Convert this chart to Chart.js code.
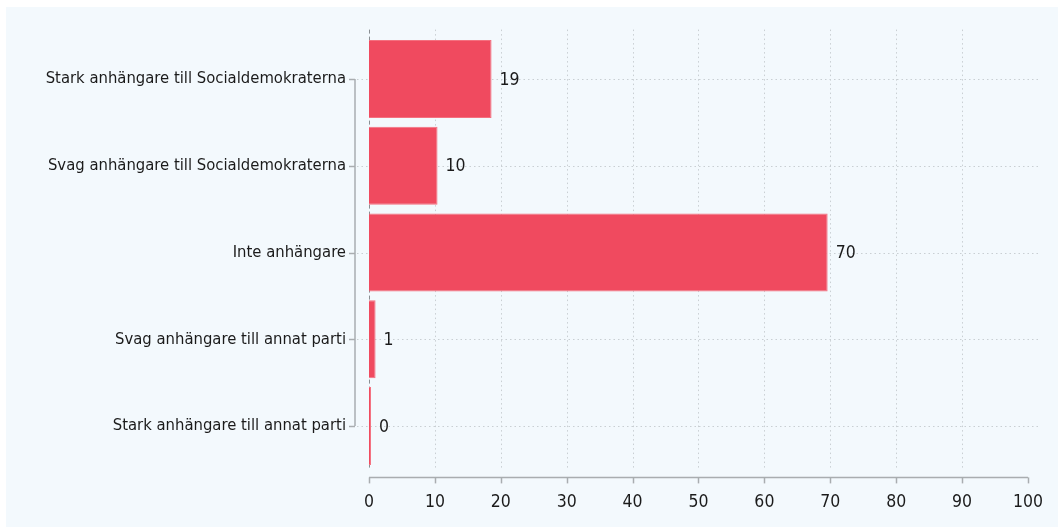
<!DOCTYPE html>
<html>
<head>
<meta charset="utf-8">
<script src="https://cdn.jsdelivr.net/npm/chart.js@4/dist/chart.umd.min.js"></script>
<style>
  html, body { margin: 0; padding: 0; background: #ffffff; }
  #wrap { width: 1058px; height: 527px; position: relative; }
</style>
</head>
<body>
<div id="wrap"><canvas id="chart"></canvas></div>
<script>
const categories = [
    "Stark anhängare till Socialdemokraterna",
    "Svag anhängare till Socialdemokraterna",
    "Inte anhängare",
    "Svag anhängare till annat parti",
    "Stark anhängare till annat parti"
];
const shares = [18.6, 10.4, 69.6, 1.0, 0.3];
const xTicks = [0, 10, 20, 30, 40, 50, 60, 70, 80, 90, 100];

const FONT = "'Liberation Sans Narrow', 'DejaVu Sans Condensed', sans-serif";
const textColor = "#1b1b1b";

// stata-like frame: panel, dotted grid, zero line, detached axes, value labels
const stataPlugin = {
    id: "stata",
    beforeDraw(chart) {
        const c = chart.ctx;
        c.save();
        c.fillStyle = "#f3f9fd";
        c.fillRect(6, 7, chart.width - 6, chart.height - 7);
        c.restore();
    },
    beforeDatasetsDraw(chart) {
        const c = chart.ctx, x = chart.scales.x, y = chart.scales.y;
        const area = chart.chartArea;
        c.save();
        c.strokeStyle = "#c9cfd3";
        c.lineWidth = 1;
        c.setLineDash([1.5, 3]);
        xTicks.forEach(v => {
            if (v === 0 || v === 100) return;
            const px = Math.round(x.getPixelForValue(v)) + 0.5;
            c.beginPath(); c.moveTo(px, area.top - 6); c.lineTo(px, area.bottom - 1); c.stroke();
        });
        categories.forEach((_, i) => {
            const py = Math.round(y.getPixelForValue(i)) + 0.5;
            c.beginPath(); c.moveTo(area.left - 12, py); c.lineTo(area.right + 11, py); c.stroke();
        });
        // zero line
        c.strokeStyle = "#8a8f93";
        c.setLineDash([4, 3]);
        const z = Math.round(x.getPixelForValue(0)) + 0.5;
        c.beginPath(); c.moveTo(z, area.top - 6); c.lineTo(z, area.bottom - 1); c.stroke();
        c.restore();
    },
    afterDatasetsDraw(chart) {
        const c = chart.ctx, x = chart.scales.x, y = chart.scales.y;
        const area = chart.chartArea;
        c.save();
        c.strokeStyle = "#a9adb0";
        c.lineWidth = 1.5;
        // y axis bracket
        const ax = area.left - 14;
        c.beginPath();
        c.moveTo(ax, y.getPixelForValue(0)); c.lineTo(ax, y.getPixelForValue(categories.length - 1));
        c.stroke();
        categories.forEach((_, i) => {
            const py = Math.round(y.getPixelForValue(i)) + 0.5;
            c.beginPath(); c.moveTo(ax - 6, py); c.lineTo(ax, py); c.stroke();
        });
        // x axis
        const ay = area.bottom + 8;
        c.beginPath();
        c.moveTo(x.getPixelForValue(0), ay); c.lineTo(x.getPixelForValue(100), ay);
        c.stroke();
        xTicks.forEach(v => {
            const px = Math.round(x.getPixelForValue(v)) + 0.5;
            c.beginPath(); c.moveTo(px, ay); c.lineTo(px, ay + 6); c.stroke();
        });
        // value labels
        c.fillStyle = textColor;
        c.font = "17.5px " + FONT;
        c.textAlign = "left";
        c.textBaseline = "middle";
        chart.getDatasetMeta(0).data.forEach((bar, i) => {
            c.fillText(Math.round(shares[i]).toString(), bar.x + 8, bar.y + 1);
        });
        c.restore();
    }
};

new Chart(document.getElementById("chart"), {
    type: "bar",
    data: {
        labels: categories,
        datasets: [{
            data: shares,
            backgroundColor: "#f04a5f",
            borderColor: "#f4707f",
            borderWidth: 1,
            barPercentage: 0.9,
            categoryPercentage: 1.0
        }]
    },
    options: {
        indexAxis: "y",
        responsive: true,
        maintainAspectRatio: false,
        animation: false,
        layout: { padding: { top: 35.6, right: 27, left: 0, bottom: 0 } },
        plugins: { legend: { display: false }, tooltip: { enabled: false } },
        scales: {
            x: {
                min: 0,
                max: 100,
                afterBuildTicks: axis => { axis.ticks = xTicks.map(v => ({ value: v })); },
                afterFit: axis => { axis.height = 57.6; },
                grid: { display: false },
                border: { display: false },
                ticks: { color: textColor, font: { family: FONT, size: 17.5 }, padding: 15, maxRotation: 0 }
            },
            y: {
                offset: true,
                afterFit: axis => { axis.width = 369; },
                grid: { display: false },
                border: { display: false },
                ticks: { color: textColor, font: { family: FONT, size: 16.5 }, padding: 15 }
            }
        }
    },
    plugins: [stataPlugin]
});
</script>
</body>
</html>
